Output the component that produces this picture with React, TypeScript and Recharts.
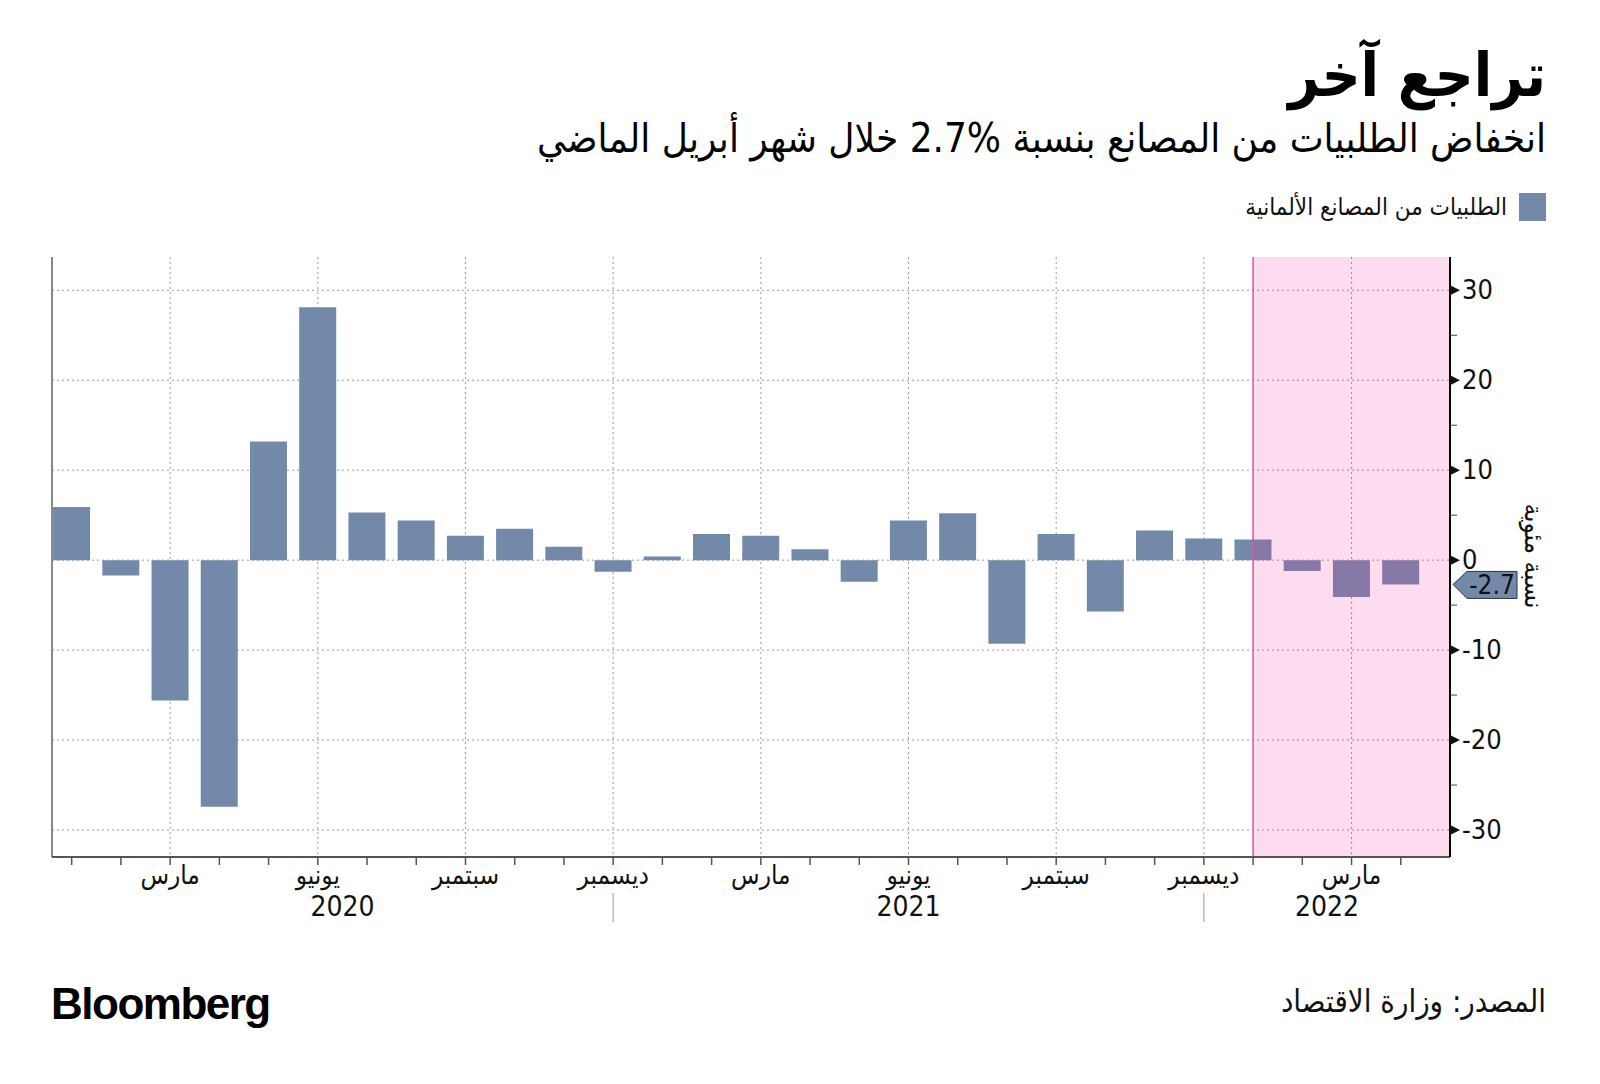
import { BarChart, Bar, XAxis, YAxis, CartesianGrid, ReferenceArea, ReferenceLine } from 'recharts'

// month-on-month change in German factory orders, Jan 2020 .. Apr 2022
const monthLabels = [
  'يناير', 'فبراير', 'مارس', 'أبريل', 'مايو', 'يونيو', 'يوليو', 'أغسطس', 'سبتمبر', 'أكتوبر', 'نوفمبر', 'ديسمبر',
  'يناير', 'فبراير', 'مارس', 'أبريل', 'مايو', 'يونيو', 'يوليو', 'أغسطس', 'سبتمبر', 'أكتوبر', 'نوفمبر', 'ديسمبر',
  'يناير', 'فبراير', 'مارس', 'أبريل'
]
const orders = [
  5.9, -1.7, -15.6, -27.4, 13.2, 28.1, 5.3, 4.4, 2.7, 3.5, 1.5, -1.3,
  0.4, 2.9, 2.7, 1.2, -2.4, 4.4, 5.2, -9.3, 2.9, -5.7, 3.3, 2.4,
  2.3, -1.2, -4.1, -2.7
]
const yearLabels = ['2020', '2021', '2022']
const yearTickAt = [5.5, 17, 25.5]
const yearBreaks = [11, 23]
const quarterTicks = [2, 5, 8, 11, 14, 17, 20, 23, 26]
const yTicks = [-30, -25, -20, -15, -10, -5, 0, 5, 10, 15, 20, 25, 30]
const yGrid = [-30, -20, -10, 0, 10, 20, 30]
const shadeFrom = 24
const lastValue = -2.7

const data = orders.map((v, i) => ({ i, v, m: monthLabels[i] }))
const xDomain: [number, number] = [-0.4, 28]

const NARROW = '"Liberation Sans Narrow", "DejaVu Sans Condensed", "DejaVu Sans", sans-serif'
const ARABIC = '"DejaVu Sans Condensed", "DejaVu Sans", sans-serif'
const BAR = '#7389aa'

const MonthTick = (props: any) => {
  const { x, y, payload } = props
  const i = payload.value
  if (!quarterTicks.includes(i)) return <g />
  return (
    <text x={x} y={y} dy={19} textAnchor='middle' fontSize={26} fontFamily={ARABIC} fill='#111'>
      {monthLabels[i]}
    </text>
  )
}

const YearLabel = (props: any) => {
  const vb = props.viewBox || {}
  const bottom = vb.y + vb.height
  return (
    <text x={vb.x} y={bottom + 59} textAnchor='middle' fontSize={28} fontFamily={NARROW} fill='#111'>
      {props.text}
    </text>
  )
}

const YearBreak = (props: any) => {
  const vb = props.viewBox || {}
  const bottom = vb.y + vb.height
  return <line x1={vb.x} x2={vb.x} y1={bottom + 36} y2={bottom + 65} stroke='#999' strokeWidth={1} />
}

const RightTick = (props: any) => {
  const { x, y, payload } = props
  const v = payload.value
  if (v % 10 !== 0) {
    return <line x1={x} x2={x + 7} y1={y} y2={y} stroke='#444' strokeWidth={1} />
  }
  return (
    <g>
      <polygon points={`${x},${y - 5} ${x + 10},${y} ${x},${y + 5}`} fill='#111' />
      <text x={x + 12} y={y} dy={9} fontSize={27} fontFamily={NARROW} fill='#111'>
        {v}
      </text>
    </g>
  )
}

const LastTag = (props: any) => {
  const vb = props.viewBox || {}
  const x = vb.x + vb.width + 3
  const y = vb.y
  return (
    <g>
      <polygon
        points={`${x},${y} ${x + 14},${y - 13} ${x + 64},${y - 13} ${x + 64},${y + 14} ${x + 14},${y + 14}`}
        fill={BAR}
        stroke='#333'
        strokeWidth={1}
      />
      <text x={x + 39} y={y + 1} dy={9} textAnchor='middle' fontSize={26} fontFamily={NARROW} fill='#111'>
        {lastValue}
      </text>
    </g>
  )
}

export default function App () {
  return (
    <div style={{ position: 'absolute', left: 0, top: 0, width: 1600, height: 1084, background: '#fff' }}>
      <div dir='rtl' style={{ position: 'absolute', right: 54, top: 35, fontFamily: ARABIC, fontWeight: 700, fontSize: 60, lineHeight: '80px', color: '#000' }}>
        تراجع آخر
      </div>
      <div dir='rtl' style={{ position: 'absolute', right: 54, top: 112, fontFamily: ARABIC, fontSize: 40, lineHeight: '52px', color: '#000' }}>
        انخفاض الطلبيات من المصانع بنسبة <bdi dir='ltr'>2.7%</bdi> خلال شهر أبريل الماضي
      </div>
      <div dir='rtl' style={{ position: 'absolute', right: 54, top: 193, display: 'flex', alignItems: 'center', gap: 12, fontFamily: ARABIC, fontSize: 24, color: '#111' }}>
        <span style={{ display: 'inline-block', width: 27, height: 28, background: BAR }} />
        <span>الطلبيات من المصانع الألمانية</span>
      </div>
      <div style={{ position: 'absolute', left: 1534 - 80, top: 556 - 12, width: 160, height: 24, textAlign: 'center', transform: 'rotate(90deg)', fontFamily: ARABIC, fontSize: 26, lineHeight: '24px', color: '#111' }}>
        نسبة مئوية
      </div>
      <div dir='rtl' style={{ position: 'absolute', right: 54, top: 981, fontFamily: ARABIC, fontSize: 31, lineHeight: '40px', color: '#111' }}>
        المصدر: وزارة الاقتصاد
      </div>
      <div style={{ position: 'absolute', left: 51, top: 980, fontFamily: '"Liberation Sans", Arial, sans-serif', fontWeight: 700, fontSize: 44, letterSpacing: -1.5, lineHeight: '48px', color: '#000' }}>
        Bloomberg
      </div>

      <div style={{ position: 'absolute', left: 0, top: 0 }}>
        <BarChart width={1600} height={1084} data={data} margin={{ top: 257, right: 50, bottom: 197, left: 52 }}>
          <CartesianGrid
            stroke='#9a9a9a'
            strokeDasharray='2 3'
            horizontalValues={yGrid}
            verticalValues={quarterTicks}
          />
          <XAxis
            dataKey='i'
            type='number'
            domain={xDomain}
            ticks={data.map(d => d.i)}
            interval={0}
            tick={<MonthTick />}
            tickSize={8}
            tickMargin={0}
            tickLine={{ stroke: '#555', strokeWidth: 1.5 }}
            axisLine={{ stroke: '#555', strokeWidth: 2 }}
            height={30}
          />
          <YAxis
            orientation='right'
            type='number'
            domain={[-33, 33.7]}
            ticks={yTicks}
            interval={0}
            tick={<RightTick />}
            tickSize={0}
            tickMargin={0}
            tickLine={false}
            axisLine={{ stroke: '#000', strokeWidth: 2 }}
            width={100}
          />
          <ReferenceLine x={xDomain[0]} stroke='#888' strokeWidth={2} />
          <Bar dataKey='v' fill={BAR} barSize={37} isAnimationActive={false} />
          <ReferenceArea x1={shadeFrom} x2={xDomain[1]} fill='#f0239a' fillOpacity={0.16} stroke='none' zIndex={350} />
          <ReferenceLine x={shadeFrom} stroke='#e0509a' strokeWidth={1.5} zIndex={360} />
          <ReferenceLine y={lastValue} stroke='none' label={(p: any) => <LastTag {...p} />} />
          {yearTickAt.map((at, k) => (
            <ReferenceLine key={'y' + k} x={at} stroke='none' label={(p: any) => <YearLabel {...p} text={yearLabels[k]} />} />
          ))}
          {yearBreaks.map((at, k) => (
            <ReferenceLine key={'b' + k} x={at} stroke='none' label={(p: any) => <YearBreak {...p} />} />
          ))}
        </BarChart>
      </div>
    </div>
  )
}
